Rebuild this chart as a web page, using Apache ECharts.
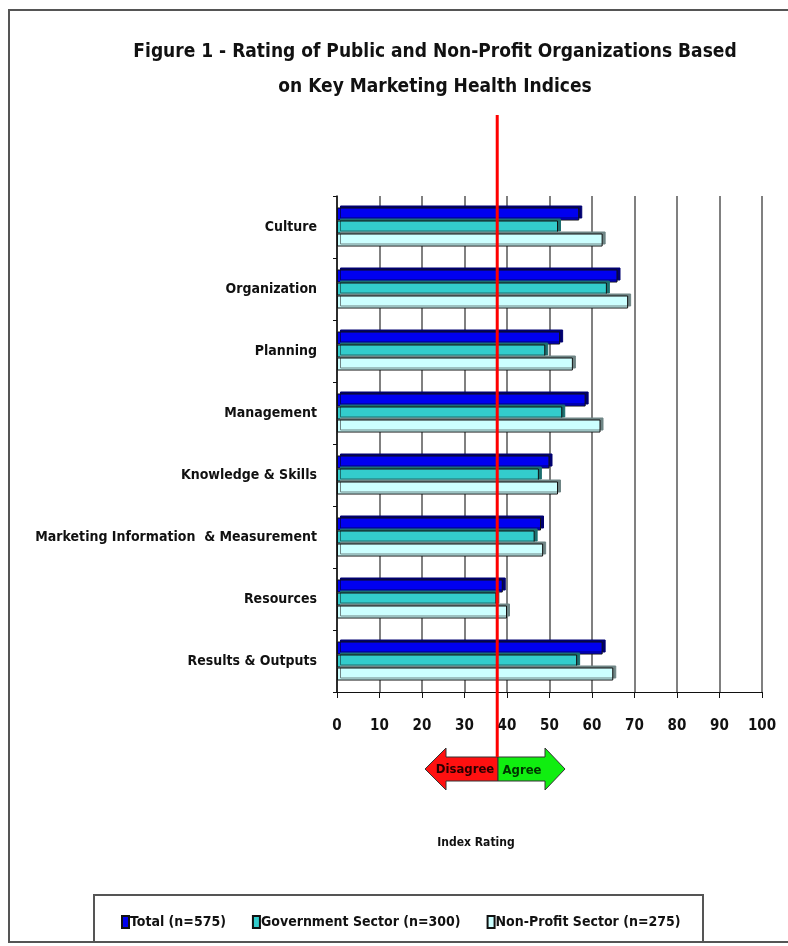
<!DOCTYPE html>
<html>
<head>
<meta charset="utf-8">
<title>Figure 1</title>
<script src="https://cdn.jsdelivr.net/npm/echarts@6/dist/echarts.min.js"></script>
<style>
    html, body { margin: 0; padding: 0; background: #fff; }
    #chart { width: 788px; height: 946px; }
</style>
</head>
<body>
<div id="chart"></div>
<script>
// categories, top to bottom
var categories = ['Culture', 'Organization', 'Planning', 'Management', 'Knowledge & Skills',
    'Marketing Information  & Measurement', 'Resources', 'Results & Outputs'];

var legendNames = ['Total (n=575)', 'Government Sector (n=300)', 'Non-Profit Sector (n=275)'];

var totalValues = [57, 66, 52.5, 58.5, 50, 48, 39, 62.5];
var govValues = [52, 63.5, 49, 53, 47.5, 46.5, 37.5, 56.5];
var nonProfitValues = [62.5, 68.5, 55.5, 62, 52, 48.5, 40, 65];

var xTicks = [0, 10, 20, 30, 40, 50, 60, 70, 80, 90, 100];
var refValue = 37.7;   // red reference line

var FONT = '"Liberation Sans Narrow", "Arial Narrow", "DejaVu Sans Condensed", sans-serif';

var chart = echarts.init(document.getElementById('chart'));

function barSeries(name, data, color, shade) {
    return {
        name: name,
        type: 'bar',
        xAxisIndex: 0,
        yAxisIndex: 0,
        data: data,
        barWidth: 13,
        barGap: '0%',
        itemStyle: {
            color: color,
            borderColor: '#111',
            borderWidth: 1,
            shadowColor: shade,
            shadowBlur: 0,
            shadowOffsetX: 3,
            shadowOffsetY: -2
        }
    };
}

var option = {
    backgroundColor: '#fff',
    animation: false,
    textStyle: { fontFamily: FONT },
    title: {
        text: 'Figure 1 - Rating of Public and Non-Profit Organizations Based\non Key Marketing Health Indices',
        left: 430,
        textAlign: 'center',
        top: 30,
        textStyle: {
            fontFamily: FONT,
            fontSize: 19,
            fontWeight: 'bold',
            color: '#111',
            lineHeight: 35
        }
    },
    legend: {
        data: legendNames,
        left: 116,
        top: 910,
        icon: 'rect',
        itemWidth: 7,
        itemHeight: 12,
        itemGap: 26,
        textStyle: { fontFamily: FONT, fontSize: 14, fontWeight: 'bold', color: '#111', padding: [0, 0, 0, -4] }
    },
    grid: [
        { left: 337, right: 26, top: 196, bottom: 254, outerBoundsMode: 'none' },
        { left: 337, right: 26, top: 115, bottom: 189, outerBoundsMode: 'none' }
    ],
    xAxis: [
        {
            type: 'value',
            gridIndex: 0,
            min: 0,
            max: 100,
            interval: 10,
            axisLine: { show: true, lineStyle: { color: '#111', width: 1 } },
            axisTick: { show: true, length: 6, lineStyle: { color: '#111' } },
            axisLabel: {
                margin: 27,
                fontFamily: FONT,
                fontSize: 15,
                fontWeight: 'bold',
                color: '#111',
                formatter: function (v) { return xTicks.indexOf(v) >= 0 ? String(v) : ''; }
            },
            splitLine: { show: true, lineStyle: { color: '#808080', width: 2 } }
        },
        {
            type: 'value',
            gridIndex: 1,
            min: 0,
            max: 100,
            show: false
        }
    ],
    yAxis: [
        {
            type: 'category',
            gridIndex: 0,
            data: categories,
            inverse: true,
            axisLine: { show: true, lineStyle: { color: '#111', width: 1.5 } },
            axisTick: { show: true, length: 4, lineStyle: { color: '#111' } },
            axisLabel: {
                margin: 20,
                fontFamily: FONT,
                fontSize: 14,
                fontWeight: 'bold',
                color: '#111'
            },
            splitLine: { show: false }
        },
        {
            type: 'value',
            gridIndex: 1,
            min: 0,
            max: 1,
            show: false
        }
    ],
    series: [
        barSeries(legendNames[0], totalValues, '#0000f0', '#000070'),
        barSeries(legendNames[1], govValues, '#33cccc', '#1d6f6f'),
        barSeries(legendNames[2], nonProfitValues, '#ccffff', '#6f8585'),
        {
            name: 'ref',
            type: 'line',
            xAxisIndex: 1,
            yAxisIndex: 1,
            data: [[refValue, 0], [refValue, 1]],
            symbol: 'none',
            z: 20,
            silent: true,
            lineStyle: { color: '#ff0000', width: 3 }
        }
    ],
    graphic: [
        // outer frame
        { type: 'rect', z: 0, silent: true,
          shape: { x: 9, y: 10, width: 800, height: 932 },
          style: { fill: null, stroke: '#555', lineWidth: 2 } },
        // legend frame
        { type: 'rect', z: 0, silent: true,
          shape: { x: 94, y: 895, width: 609, height: 47 },
          style: { fill: null, stroke: '#555', lineWidth: 2 } },
        // disagree / agree arrow
        { type: 'polygon', z: 10, silent: true,
          shape: { points: [[498, 757], [446, 757], [446, 748], [425, 769], [446, 790], [446, 781], [498, 781]] },
          style: { fill: '#ff1010', stroke: '#333', lineWidth: 1 } },
        { type: 'polygon', z: 10, silent: true,
          shape: { points: [[498, 757], [545, 757], [545, 748], [565, 769], [545, 790], [545, 781], [498, 781]] },
          style: { fill: '#10ee10', stroke: '#333', lineWidth: 1 } },
        { type: 'text', z: 11, silent: true, x: 465, y: 770,
          style: { text: 'Disagree', fontFamily: FONT, fontSize: 13, fontWeight: 'bold', fill: '#2a0000', align: 'center', verticalAlign: 'middle' } },
        { type: 'text', z: 11, silent: true, x: 522, y: 771,
          style: { text: 'Agree', fontFamily: FONT, fontSize: 13, fontWeight: 'bold', fill: '#003300', align: 'center', verticalAlign: 'middle' } },
        // axis title
        { type: 'text', z: 11, silent: true, x: 476, y: 843,
          style: { text: 'Index Rating', fontFamily: FONT, fontSize: 12, fontWeight: 'bold', fill: '#111', align: 'center', verticalAlign: 'middle' } }
    ]
};

chart.setOption(option);
</script>
</body>
</html>
